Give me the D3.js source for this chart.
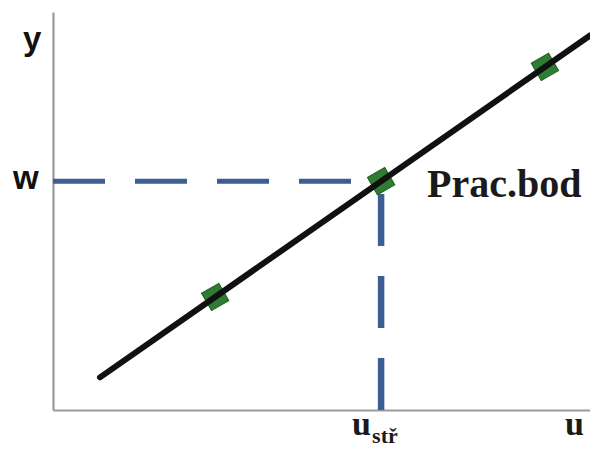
<!DOCTYPE html>
<html>
<head>
<meta charset="utf-8">
<script src="https://cdn.jsdelivr.net/npm/d3@7"></script>
<style>
  html, body { margin: 0; padding: 0; background: #ffffff; }
  svg { display: block; }
</style>
</head>
<body>
<svg id="chart" width="590" height="450"></svg>
<script>
// ---- data (abstract units, 0..100 on both axes) ----
const lineU = [8.75, 100];
const lineY = [8.2, 94.1];
const pointU = [30.2, 61.1, 91.6];
const pointY = [28.4, 57.5, 86.2];
const workU = 61.1;     // u_stř
const workW = 57.5;     // w
const yLabel = "y";
const wLabel = "w";
const uLabel = "u";
const uMidMain = "u";
const uMidSub = "stř";
const workLabel = "Prac.bod";

const W = 590, H = 450;
const svg = d3.select("#chart");

const x = d3.scaleLinear().domain([0, 100]).range([53, 590]);
const y = d3.scaleLinear().domain([0, 100]).range([410, 12]);

// axes (no ticks)
const gy = svg.append("g").attr("transform", `translate(${x(0)},0)`)
  .call(d3.axisLeft(y).tickValues([]).tickSizeOuter(0));
const gx = svg.append("g").attr("transform", `translate(0,${y(0)})`)
  .call(d3.axisBottom(x).tickValues([]).tickSizeOuter(0));
[gy, gx].forEach(g => g.select(".domain").attr("stroke", "#9a9a9a").attr("stroke-width", 2.2));

// dashed guide lines
const dashColor = "#3c5e93";
svg.append("line")
  .attr("x1", x(0)).attr("y1", y(workW))
  .attr("x2", x(workU)).attr("y2", y(workW))
  .attr("stroke", dashColor).attr("stroke-width", 5)
  .attr("stroke-dasharray", "52,30");
svg.append("line")
  .attr("x1", x(workU)).attr("y1", y(0))
  .attr("x2", x(workU)).attr("y2", y(workW))
  .attr("stroke", dashColor).attr("stroke-width", 6.5)
  .attr("stroke-dasharray", "52,30");

// markers (squares aligned with the line)
const pts = pointU.map((u, i) => ({u, v: pointY[i]}));
const ang = Math.atan2(y(lineY[1]) - y(lineY[0]), x(lineU[1]) - x(lineU[0])) * 180 / Math.PI;
const side = 20;
svg.append("g").selectAll("rect").data(pts).join("rect")
  .attr("x", -side / 2).attr("y", -side / 2)
  .attr("width", side).attr("height", side)
  .attr("transform", d => `translate(${x(d.u)},${y(d.v)}) rotate(${ang + 5})`)
  .attr("fill", "#2e7d33").attr("stroke", "#1f5f24").attr("stroke-width", 1);

// main line
const lineData = lineU.map((u, i) => ({u, v: lineY[i]}));
svg.append("path").datum(lineData)
  .attr("d", d3.line().x(d => x(d.u)).y(d => y(d.v)))
  .attr("fill", "none").attr("stroke", "#111111").attr("stroke-width", 6)
  .attr("stroke-linecap", "round");

// labels
const sans = "'Liberation Sans', Arial, sans-serif";
const serif = "'Liberation Serif', 'Times New Roman', serif";
svg.append("text").text(yLabel)
  .attr("x", 23).attr("y", 50)
  .attr("font-family", sans).attr("font-weight", "bold").attr("font-size", 33).attr("fill", "#111");
svg.append("text").text(wLabel)
  .attr("x", 13).attr("y", y(workW) + 8)
  .attr("font-family", sans).attr("font-weight", "bold").attr("font-size", 33).attr("fill", "#111");
svg.append("text").text(workLabel)
  .attr("x", x(workU) + 46).attr("y", y(workW) + 16)
  .attr("font-family", serif).attr("font-weight", "bold").attr("font-size", 40).attr("fill", "#1a1a1a");
svg.append("text").text(uMidMain)
  .attr("x", x(workU) - 29).attr("y", 435)
  .attr("font-family", serif).attr("font-weight", "bold").attr("font-size", 34).attr("fill", "#1a1a1a");
svg.append("text").text(uMidSub)
  .attr("x", x(workU) - 9).attr("y", 443)
  .attr("font-family", serif).attr("font-weight", "bold").attr("font-size", 22).attr("fill", "#1a1a1a");
svg.append("text").text(uLabel)
  .attr("x", 565).attr("y", 435)
  .attr("font-family", serif).attr("font-weight", "bold").attr("font-size", 34).attr("fill", "#1a1a1a");
</script>
</body>
</html>
